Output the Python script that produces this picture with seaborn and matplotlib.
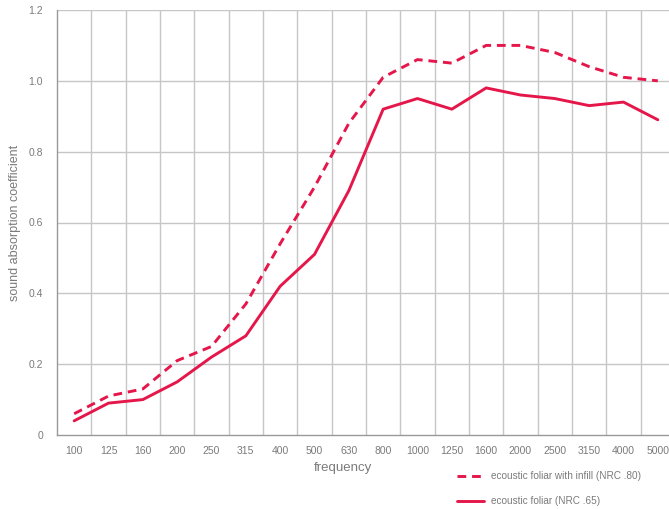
import matplotlib
matplotlib.use("Agg")
import matplotlib.pyplot as plt
import seaborn as sns
import pandas as pd
import numpy as np
from matplotlib.lines import Line2D

frequencies = ["100", "125", "160", "200", "250", "315", "400", "500", "630", "800",
               "1000", "1250", "1600", "2000", "2500", "3150", "4000", "5000"]
infill = [0.06, 0.11, 0.13, 0.21, 0.25, 0.37, 0.54, 0.70, 0.88, 1.01,
          1.06, 1.05, 1.10, 1.10, 1.08, 1.04, 1.01, 1.00]
foliar = [0.04, 0.09, 0.10, 0.15, 0.22, 0.28, 0.42, 0.51, 0.69, 0.92,
          0.95, 0.92, 0.98, 0.96, 0.95, 0.93, 0.94, 0.89]
series_names = ["ecoustic foliar with infill (NRC .80)", "ecoustic foliar (NRC .65)"]
y_ticks = [0, 0.2, 0.4, 0.6, 0.8, 1.0, 1.2]
y_tick_labels = ["0", "0.2", "0.4", "0.6", "0.8", "1.0", "1.2"]

sns.set_style("white")
plt.rcParams['font.family'] = ['Liberation Sans', 'DejaVu Sans']

df = pd.DataFrame({
    "frequency": frequencies * 2,
    "value": infill + foliar,
    "series": [series_names[0]] * len(frequencies) + [series_names[1]] * len(frequencies),
})
df["x"] = list(range(len(frequencies))) * 2

color = "#e5174a"
grid_c = "#c6c6c6"
text_c = "#7a7a7a"

fig = plt.figure(figsize=(6.69, 5.09), dpi=100)
ax = fig.add_axes([57 / 669, 1 - 435 / 509, (675 - 57) / 669, (435 - 10) / 509])

sns.lineplot(data=df, x="x", y="value", hue="series", style="series",
             palette=[color, color], dashes=[(3, 2), ""], linewidth=2.1,
             ax=ax, legend=False)

ax.set_xlim(-0.5, len(frequencies) - 0.5)
ax.set_ylim(0, 1.2)

for b in np.arange(0.5, len(frequencies) - 0.5, 1.0):
    ax.axvline(b, color=grid_c, lw=1.0, zorder=0)
for yv in y_ticks[1:]:
    ax.axhline(yv, color=grid_c, lw=1.0, zorder=0)

ax.set_xticks(range(len(frequencies)))
ax.set_xticklabels(frequencies, color=text_c, fontsize=7.5)
ax.tick_params(axis="x", length=0, pad=8)
ax.set_xticks(np.arange(-0.5, len(frequencies), 1.0), minor=True)
ax.tick_params(axis="x", which="minor", length=4, color="#999999", width=1)

ax.set_yticks(y_ticks)
ax.set_yticklabels(y_tick_labels, color=text_c, fontsize=7.5)
ax.tick_params(axis="y", length=4, color="#999999", width=1, pad=6)

for s in ["top", "right"]:
    ax.spines[s].set_visible(False)
for s in ["left", "bottom"]:
    ax.spines[s].set_color("#999999")
    ax.spines[s].set_linewidth(1.0)

ax.set_xlabel("frequency", color=text_c, fontsize=9.5)
ax.xaxis.set_label_coords((343 - 57) / 618, -33 / 425, transform=ax.transAxes)
ax.xaxis.label.set_va("center")
ax.set_ylabel("sound absorption coefficient", color=text_c, fontsize=9)
ax.yaxis.set_label_coords(-(57 - 15) / 618, 0.5, transform=ax.transAxes)
ax.yaxis.label.set_va("center")

handles = [Line2D([0], [0], color=color, lw=2.1, dashes=(3, 2)),
           Line2D([0], [0], color=color, lw=2.1)]
leg = fig.legend(handles, series_names, loc="upper left",
                 bbox_to_anchor=(448 / 669, 1 - 462 / 509), frameon=False,
                 fontsize=7.2, handlelength=2.7, handletextpad=0.7, labelspacing=1.55,
                 labelcolor=text_c)

fig.savefig("out.png", dpi=100)
